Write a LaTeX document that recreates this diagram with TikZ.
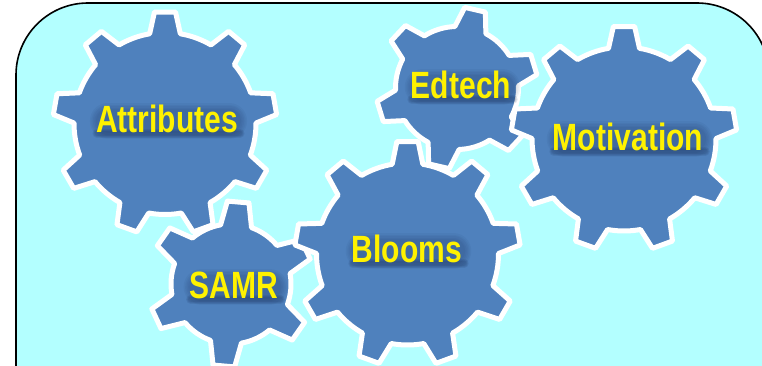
\documentclass[tikz,border=0pt]{standalone}
\usepackage{fontspec}
\newfontfamily\gearfont[FakeStretch=0.79]{Liberation Sans}
\definecolor{panelfill}{HTML}{B3FFFF}
\definecolor{gearblue}{HTML}{4F81BD}
\definecolor{shadeblue}{HTML}{14284F}
\pgfdeclarelayer{gearlayer}
\pgfdeclarelayer{shadelayer}
\pgfsetlayers{gearlayer,shadelayer,main}
\newcommand{\gearshape}[8]{% cx cy R Rt dr dt n start
  \begin{scope}[shift={(#1,#2)}]
    \draw[gearstyle] ({#8+#5}:#3)
      \foreach \i [evaluate=\i as \a using {#8-(\i-1)*360/#7}] in {1,...,#7} {
        -- ({\a+#6}:#4) -- ({\a-#6}:#4) -- ({\a-#5}:#3)
        arc[start angle={\a-#5}, end angle={\a-360/#7+#5}, radius=#3]
      } -- cycle;
  \end{scope}}
\newcommand{\softshade}[1]{%
  \foreach \w in {36,33,30,27,24}
    \draw[shadestyle, opacity=0.05, line width=\w pt]
      ([shift={(12,11)}]#1.base west) -- ([shift={(-9,11)}]#1.base east);
  \foreach \w in {9,7,5}
    \draw[shadestyle, opacity=0.10, line width=\w pt]
      ([shift={(1,-1)}]#1.base west) -- ([shift={(2,-1)}]#1.base east);}
\tikzset{
  gearstyle/.style={fill=gearblue, draw=white, line width=5pt, line join=round},
  panelstyle/.style={fill=panelfill, draw=black, line width=1.6pt},
  gearlabel/.style={inner sep=0pt, anchor=base, font=\gearfont\bfseries\fontsize{38}{38}\selectfont, text=yellow},
  shadestyle/.style={draw=shadeblue, line cap=round}
}
\begin{document}
\begin{tikzpicture}[x=1pt,y=1pt]
  \useasboundingbox (0,0) rectangle (762,365);
  \begin{pgfonlayer}{gearlayer}
  \draw[panelstyle] (16,-30) -- (16,290) arc[start angle=180, end angle=90, radius=72]
    -- (697,362) arc[start angle=90, end angle=0, radius=72] -- (769,-30) -- cycle;
  \gearshape{165}{241.5}{91}{112}{9.7}{5.4}{9}{90}
  \gearshape{231}{81}{60}{83}{15}{7.5}{6}{85}
  \gearshape{457}{277}{61.5}{81}{15}{7.5}{6}{77}
  \gearshape{624}{226}{92}{113}{9.7}{5.4}{9}{90}
  \gearshape{407.5}{111}{91}{113}{9.7}{5.4}{9}{90}
  \end{pgfonlayer}
  \node[gearlabel] (attributes) at (167,233) {Attributes};
  \node[gearlabel] (edtech) at (461,267) {Edtech};
  \node[gearlabel] (motivation) at (628,215) {Motivation};
  \node[gearlabel] (blooms) at (407,103) {Blooms};
  \node[gearlabel] (samr) at (234,67) {SAMR};
  \begin{pgfonlayer}{shadelayer}
  \softshade{attributes}
  \softshade{edtech}
  \softshade{motivation}
  \softshade{blooms}
  \softshade{samr}
  \end{pgfonlayer}
\end{tikzpicture}
\end{document}
